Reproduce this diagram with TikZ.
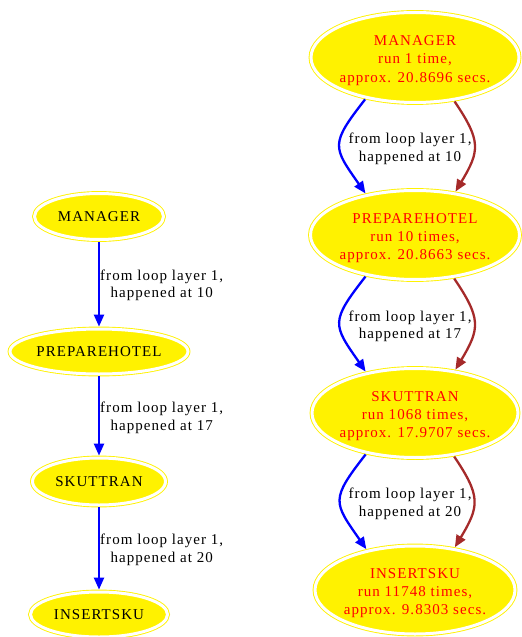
\documentclass[tikz,border=0pt]{standalone}
\usepackage{fontspec}
\setmainfont{Liberation Serif}[LetterSpace=7]
\usetikzlibrary{shapes.geometric,arrows.meta,calc}
\definecolor{edgebrown}{HTML}{A52A2A}
\begin{document}
\begin{tikzpicture}[x=1bp,y=1bp,
  every node/.style={font=\fontsize{15bp}{17.5bp}\selectfont, inner sep=0pt},
  task/.style={ellipse, fill=yellow, draw=yellow, line width=0.9bp,
    double=white, double distance=3bp, outer sep=2.4bp},
  caption/.style={align=center},
  timing/.style={align=center, text=red, font=\fontsize{15bp}{18.3bp}\selectfont},
  note/.style={align=center},
  flow/.style={line width=2.3bp, -{Triangle[length=12bp,width=10bp]}}]
\useasboundingbox (0,0) rectangle (522,-637);

% plain call chain
\node[task, minimum width=129bp, minimum height=46bp] (lm) at (99,-216.5) {};
\node[task, minimum width=178bp, minimum height=45bp] (lp) at (99,-351.5) {};
\node[task, minimum width=133bp, minimum height=47bp] (ls) at (99,-481.5) {};
\node[task, minimum width=137bp, minimum height=45bp] (li) at (99,-614.5) {};
\node[caption] (lmt) at (lm) {MANAGER};
\node[caption] (lpt) at (lp) {PREPAREHOTEL};
\node[caption] (lst) at (ls) {SKUTTRAN};
\node[caption] (lit) at (li) {INSERTSKU};

\draw[flow, blue] (lm) -- (lp);
\draw[flow, blue] (lp) -- (ls);
\draw[flow, blue] (ls) -- (li);
\node[note, anchor=west] (ll1) at ($(lm)!0.5!(lp)+(1,-1.5)$) {from loop layer 1,\\happened at 10};
\node[note, anchor=west] (ll2) at ($(lp)!0.5!(ls)+(1,-1.5)$) {from loop layer 1,\\happened at 17};
\node[note, anchor=west] (ll3) at ($(ls)!0.5!(li)+(1,-2)$) {from loop layer 1,\\happened at 20};

% call chain with run counts and timings
\node[task, minimum width=208bp, minimum height=90bp] (rm) at (415,-57.5) {};
\node[task, minimum width=209bp, minimum height=89bp] (rp) at (415,-235) {};
\node[task, minimum width=206bp, minimum height=89bp] (rs) at (415,-413) {};
\node[task, minimum width=200bp, minimum height=88bp] (ri) at (415,-590) {};
\node[timing] (rmt) at ($(rm)+(0,-3)$) {MANAGER\\run 1 time,\\approx. 20.8696 secs.};
\node[timing] (rpt) at ($(rp)+(0,-3)$) {PREPAREHOTEL\\run 10 times,\\approx. 20.8663 secs.};
\node[timing] (rst) at ($(rs)+(0,-3)$) {SKUTTRAN\\run 1068 times,\\approx. 17.9707 secs.};
\node[timing] (rit) at ($(ri)+(0,-3)$) {INSERTSKU\\run 11748 times,\\approx. 9.8303 secs.};

\node[note] (rl1) at ($(rm)!0.5!(rp)+(-5,-2.5)$) {from loop layer 1,\\happened at 10};
\node[note] (rl2) at ($(rp)!0.5!(rs)+(-5,-2.5)$) {from loop layer 1,\\happened at 17};
\node[note] (rl3) at ($(rs)!0.5!(ri)+(-5,-2.5)$) {from loop layer 1,\\happened at 20};

\draw[flow, blue] (rm.220) to[out=232, in=125, looseness=1.55] (rp.140);
\draw[flow, edgebrown] (rm.312) to[out=304, in=59, looseness=1.35] (rp.47);
\draw[flow, blue] (rp.220) to[out=232, in=125, looseness=1.55] (rs.140);
\draw[flow, edgebrown] (rp.312) to[out=304, in=59, looseness=1.35] (rs.47);
\draw[flow, blue] (rs.220) to[out=232, in=125, looseness=1.55] (ri.140);
\draw[flow, edgebrown] (rs.312) to[out=304, in=59, looseness=1.35] (ri.47);
\end{tikzpicture}
\end{document}
